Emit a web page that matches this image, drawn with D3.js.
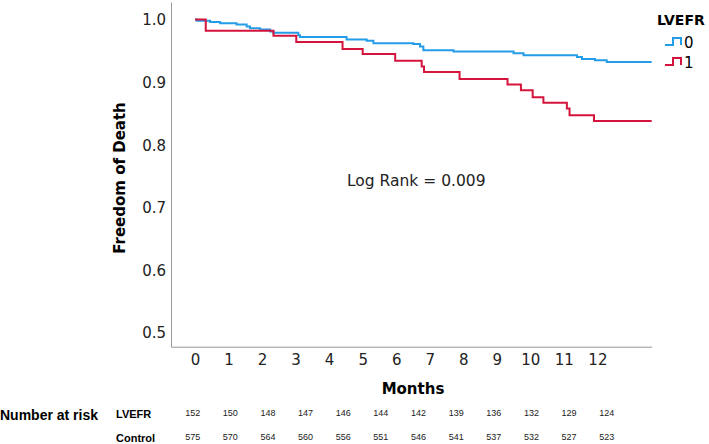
<!DOCTYPE html>
<html>
<head>
<meta charset="utf-8">
<script src="https://cdn.jsdelivr.net/npm/d3@7"></script>
<style>
  body { margin: 0; background: #fff; }
  .axis path { stroke: #999; }
  .axis text { font-family: "DejaVu Sans", sans-serif; font-size: 15px; fill: #222; }
</style>
</head>
<body>
<svg id="km" width="709" height="444"></svg>
<script>
// step points (months, survival)
const blueTimes  = [0, 0.05, 0.45, 0.75, 1.24, 1.54, 1.64, 1.94, 2.24, 2.34, 3.08, 3.13, 4.52, 5.12, 5.32, 6.51, 6.71, 6.81, 7.71, 9.50, 9.80, 11.39, 11.54, 11.93, 12.28, 13.62]
const blueSurv   = [1.0, 0.998, 0.996, 0.994, 0.992, 0.989, 0.986, 0.984, 0.981, 0.979, 0.975, 0.972, 0.968, 0.966, 0.962, 0.961, 0.957, 0.951, 0.949, 0.946, 0.943, 0.940, 0.937, 0.935, 0.932, 0.932]
const redTimes   = [0, 0.32, 2.34, 3.02, 4.40, 5.0, 5.97, 6.76, 6.83, 7.89, 9.32, 9.72, 10.07, 10.39, 11.09, 11.17, 11.90, 13.62]
const redSurv    = [1.0, 0.982, 0.974, 0.964, 0.953, 0.945, 0.934, 0.925, 0.916, 0.905, 0.896, 0.887, 0.876, 0.867, 0.858, 0.847, 0.838, 0.838]

const groups     = ["0", "1"]
const colors     = ["#249ce8", "#d5143d"]
const monthTicks = [0,1,2,3,4,5,6,7,8,9,10,11,12]
const survTicks  = [0.5, 0.6, 0.7, 0.8, 0.9, 1.0]

const riskLVEFR   = [152, 150, 148, 147, 146, 144, 142, 139, 136, 132, 129, 124]
const riskControl = [575, 570, 564, 560, 556, 551, 546, 541, 537, 532, 527, 523]

const svg = d3.select("#km")

const x = d3.scaleLinear().domain([-0.716, 13.62]).range([171, 651.7])
const y = d3.scaleLinear().domain([0.4773, 1.028]).range([346.7, 2])

// axes
const yAxisG = svg.append("g").attr("class", "axis")
  .attr("transform", "translate(171,0)")
  .call(d3.axisLeft(y).tickValues(survTicks).tickSize(0).tickPadding(5).tickFormat(d3.format(".1f")))
yAxisG.selectAll(".tick text").attr("dy", "0.36em")

const xAxisG = svg.append("g").attr("class", "axis")
  .attr("transform", "translate(0,346.7)")
  .call(d3.axisBottom(x).tickValues(monthTicks).tickSize(0).tickPadding(8))

svg.append("text")
  .attr("x", 413).attr("y", 394)
  .attr("text-anchor", "middle")
  .style("font-family", "DejaVu Sans").style("font-weight", "bold").style("font-size", "15px")
  .text("Months")

svg.append("text")
  .attr("transform", "translate(125,178) rotate(-90)")
  .attr("text-anchor", "middle")
  .style("font-family", "DejaVu Sans").style("font-weight", "bold").style("font-size", "15px")
  .text("Freedom of Death")

// survival curves
const line = d3.line()
  .x(d => x(d[0]))
  .y(d => y(d[1]))
  .curve(d3.curveStepAfter)

const series = [
  d3.zip(blueTimes, blueSurv),
  d3.zip(redTimes, redSurv)
]

svg.selectAll("path.km")
  .data(series)
  .enter().append("path")
    .attr("class", "km")
    .attr("fill", "none")
    .attr("stroke", (d, i) => colors[i])
    .attr("stroke-width", 2)
    .attr("d", line)

svg.append("text")
  .attr("x", 347).attr("y", 186)
  .style("font-family", "DejaVu Sans").style("font-size", "15.5px").style("fill", "#222")
  .text("Log Rank = 0.009")

// legend
svg.append("text")
  .attr("x", 657).attr("y", 25)
  .style("font-family", "DejaVu Sans").style("font-weight", "bold").style("font-size", "14px")
  .text("LVEFR")

const leg = svg.selectAll("g.leg")
  .data(groups)
  .enter().append("g")
    .attr("class", "leg")
    .attr("transform", (d, i) => `translate(665,${45 + i * 20})`)
leg.append("path")
  .attr("d", "M0,0H8V-7H16V0")
  .attr("fill", "none")
  .attr("stroke", (d, i) => colors[i])
  .attr("stroke-width", 2)
leg.append("text")
  .attr("x", 19).attr("y", 3)
  .style("font-family", "DejaVu Sans").style("font-size", "15px")
  .text(d => d)

// number at risk table
const col = d3.scaleLinear().domain([0, 11]).range([192.7, 606.7])

svg.append("text")
  .attr("x", 0).attr("y", 420)
  .style("font-family", "Liberation Sans").style("font-weight", "bold").style("font-size", "14px")
  .text("Number at risk")

const rows = [["LVEFR", riskLVEFR, 416], ["Control", riskControl, 440]]
rows.forEach(([label, vals, yy]) => {
  svg.append("text")
    .attr("x", 116).attr("y", yy + 2)
    .style("font-family", "Liberation Sans").style("font-weight", "bold").style("font-size", "11px")
    .text(label)
  svg.selectAll(null)
    .data(vals)
    .enter().append("text")
      .attr("x", (d, i) => col(i)).attr("y", yy)
      .attr("text-anchor", "middle")
      .style("font-family", "Liberation Sans").style("font-size", "9px").style("fill", "#222")
      .text(d => d)
})
</script>
</body>
</html>
